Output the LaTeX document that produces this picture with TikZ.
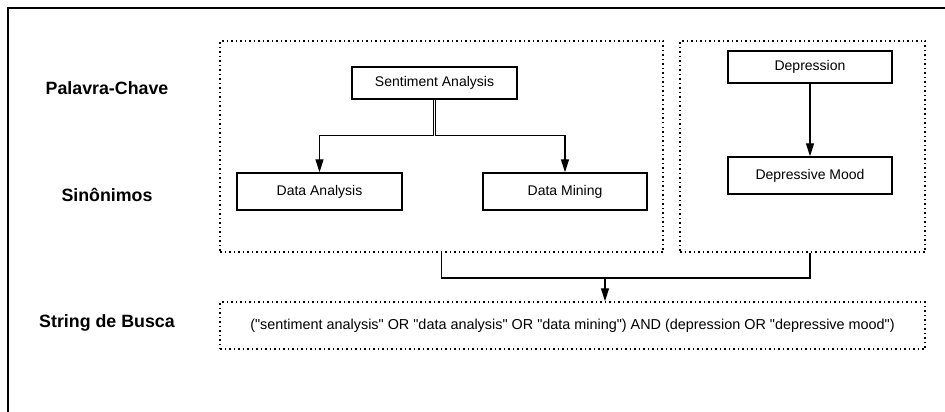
\documentclass[tikz,border=0pt]{standalone}
\usepackage{fontspec}
\setmainfont{Liberation Sans}[Ligatures=TeXOff]
\usetikzlibrary{arrows.meta}
\begin{document}
\begin{tikzpicture}[x=1pt,y=-1pt,
  kw/.style={draw, line width=1.5pt, inner sep=0pt, font=\fontsize{14}{16}\selectfont},
  grp/.style={draw, line width=1.5pt, dash pattern=on 1.5pt off 3pt, inner sep=0pt},
  lbl/.style={font=\bfseries\fontsize{17.8}{20}\selectfont},
  link/.style={line width=1.4pt},
  conn/.style={line width=1.4pt, -{Triangle[length=13pt,width=8pt]}},
]
\useasboundingbox (0,0) rectangle (945,412);
\draw[line width=1.8pt] (8,412) -- (8,8) -- (945,8);

% labels
\node[lbl] (l1) at (107,88) {Palavra-Chave};
\node[lbl] (l2) at (107,195) {Sinônimos};
\node[lbl] (l3) at (107,323) {String de Busca};

% groups
\node[grp, minimum width=443pt, minimum height=211pt] (g1) at (441.5,146.5) {};
\node[grp, minimum width=245pt, minimum height=211pt] (g2) at (802.5,146.5) {};
\node[grp, minimum width=705pt, minimum height=47pt, font=\fontsize{14.4}{16}\selectfont] (sb) at (572.5,325.5)
  {("sentiment analysis" OR "data analysis" OR "data mining") AND (depression OR "depressive mood")};

% keyword boxes
\node[kw, minimum width=165pt, minimum height=32pt] (sa) at (434.5,83) {Sentiment Analysis};
\node[kw, minimum width=165pt, minimum height=37pt] (da) at (319.5,191.5) {Data Analysis};
\node[kw, minimum width=164pt, minimum height=37pt] (dm) at (565,191.5) {Data Mining};
\node[kw, minimum width=164pt, minimum height=32pt] (dep) at (810,67) {Depression};
\node[kw, minimum width=164pt, minimum height=37pt] (dmo) at (810,175.5) {Depressive Mood};

% connectors
\draw[conn] ([xshift=-1pt]sa.south) -- ++(0,36) -| (da.north);
\draw[conn] ([xshift=1pt]sa.south) -- ++(0,36) -| (dm.north);
\draw[conn] (dep.south) -- (dmo.north);

\coordinate (m) at (605,278);
\draw[link] (g1.south) |- (m);
\draw[link] (g2.south -| dep.south) |- (m);
\draw[conn] (m) -- (m |- sb.north);
\end{tikzpicture}
\end{document}
